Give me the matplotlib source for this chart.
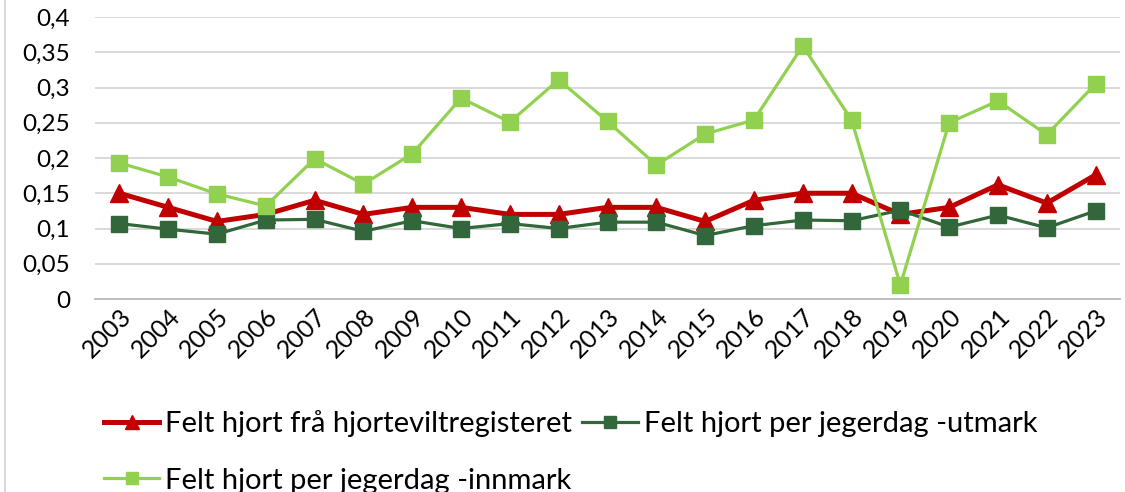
import matplotlib
matplotlib.use("Agg")
import matplotlib.pyplot as plt
from matplotlib.lines import Line2D
from matplotlib.ticker import FuncFormatter

# ==================== data ====================
YEARS = [str(y) for y in range(2003, 2024)]

REGISTER = [0.150, 0.130, 0.110, 0.120, 0.140, 0.120, 0.130, 0.130, 0.120, 0.120,
            0.130, 0.130, 0.110, 0.140, 0.150, 0.150, 0.120, 0.130, 0.162, 0.136, 0.176]
UTMARK = [0.107, 0.099, 0.092, 0.112, 0.113, 0.096, 0.111, 0.100, 0.107, 0.100,
          0.109, 0.109, 0.090, 0.104, 0.112, 0.111, 0.126, 0.102, 0.119, 0.101, 0.125]
INNMARK = [0.193, 0.173, 0.149, 0.132, 0.199, 0.163, 0.206, 0.285, 0.251, 0.311,
           0.252, 0.190, 0.234, 0.254, 0.359, 0.254, 0.020, 0.250, 0.281, 0.233, 0.305]

LABELS = [
    "Felt hjort frå hjorteviltregisteret",
    "Felt hjort per jegerdag -utmark",
    "Felt hjort per jegerdag -innmark",
]
Y_TICKS = [0, 0.05, 0.1, 0.15, 0.2, 0.25, 0.3, 0.35, 0.4]

RED = "#C00000"
DARK_GREEN = "#31673A"
LIGHT_GREEN = "#92D050"

plt.rcParams["font.family"] = ["Lato", "DejaVu Sans"]

fig = plt.figure(figsize=(11.25, 4.92), dpi=100)
ax = fig.add_axes([95 / 1125, 1 - 299 / 492, 1025 / 1125, 282 / 492])

x = range(len(YEARS))
ax.plot(x, REGISTER, color=RED, lw=3.6, marker="^", ms=13, zorder=3)
ax.plot(x, UTMARK, color=DARK_GREEN, lw=2.3, marker="s", ms=11, zorder=4)
ax.plot(x, INNMARK, color=LIGHT_GREEN, lw=2.3, marker="s", ms=11, zorder=5)

ax.set_xlim(-0.5, len(YEARS) - 0.5)
ax.set_ylim(0, 0.4)
ax.set_yticks(Y_TICKS)
ax.yaxis.set_major_formatter(FuncFormatter(lambda v, p: f"{v:g}".replace(".", ",")))
ax.set_xticks(list(x))
ax.set_xticklabels(YEARS, rotation=45, ha="right", rotation_mode="anchor")
ax.tick_params(axis="both", length=0, labelsize=17.5, colors="#000000")
ax.tick_params(axis="y", pad=18)
ax.tick_params(axis="x", labelsize=18, pad=4)

ax.grid(axis="y", color="#D9D9D9", lw=1.4)
ax.set_axisbelow(True)
for side in ["left", "right", "top"]:
    ax.spines[side].set_visible(False)
ax.spines["bottom"].set_color("#BFBFBF")
ax.spines["bottom"].set_linewidth(1.4)

# chart frame line at the left edge
fig.add_artist(Line2D([5 / 1125, 5 / 1125], [0, 1], color="#D9D9D9", lw=1.5,
                      transform=fig.transFigure))

handles = [
    Line2D([], [], color=RED, lw=3.6, marker="^", ms=10),
    Line2D([], [], color=LIGHT_GREEN, lw=2.3, marker="s", ms=9),
    Line2D([], [], color=DARK_GREEN, lw=2.3, marker="s", ms=9),
]
fig.legend(handles, [LABELS[0], LABELS[2], LABELS[1]], ncol=2, frameon=False,
           loc="upper left", bbox_to_anchor=(104 / 1125, 1 - 410 / 492),
           fontsize=21, handlelength=1.9, handletextpad=0.2, columnspacing=0.35,
           labelspacing=1.05, borderaxespad=0, borderpad=0)

fig.savefig("out.png", dpi=100)
